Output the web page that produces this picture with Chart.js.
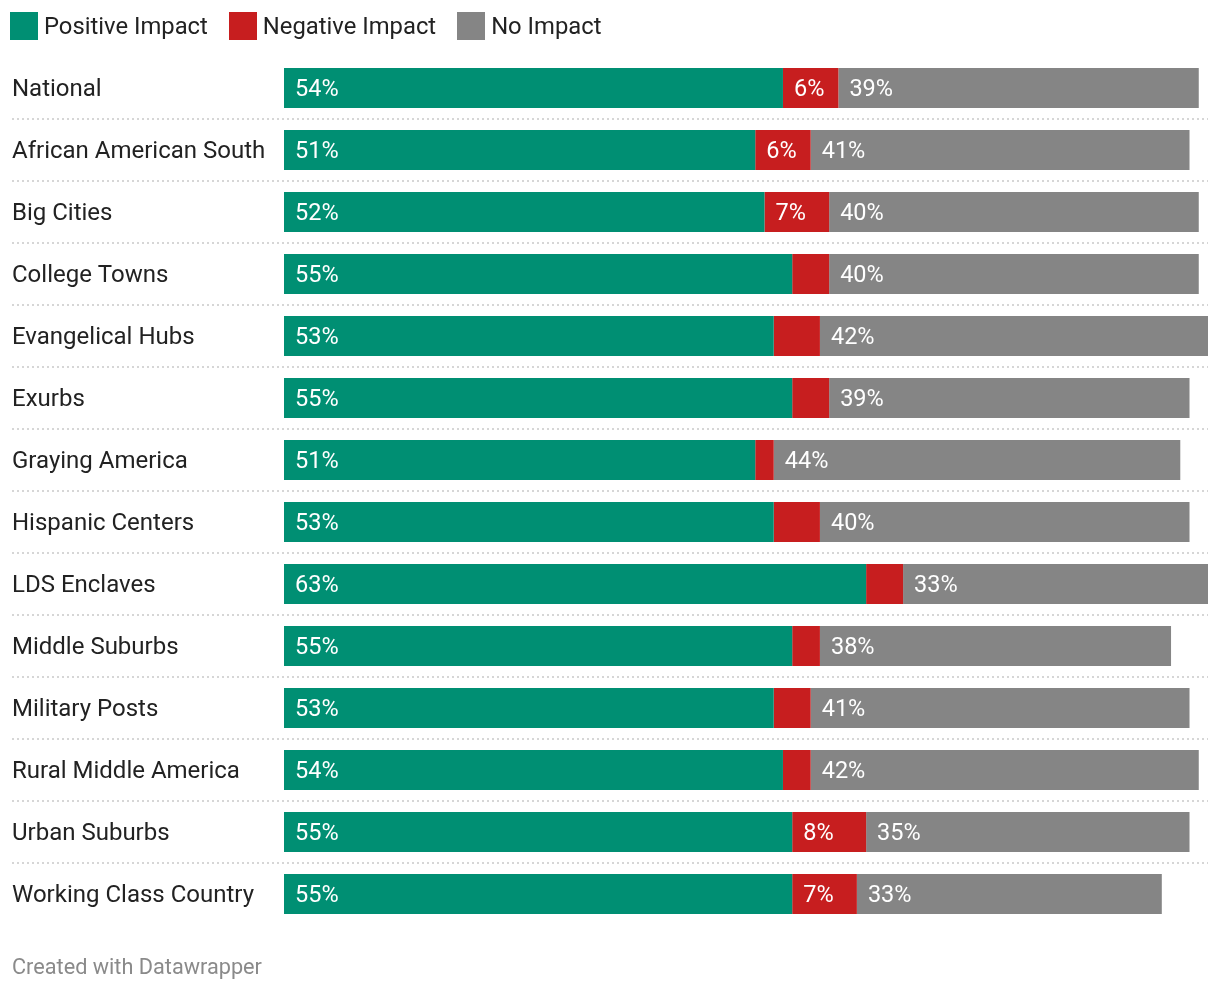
<!DOCTYPE html>
<html>
<head>
<meta charset="utf-8">
<script src="https://cdn.jsdelivr.net/npm/chart.js@4/dist/chart.umd.min.js"></script>
<style>
  html, body { margin: 0; padding: 0; background: #fff; }
  body { width: 1220px; height: 992px; position: relative; overflow: hidden; font-family: Roboto, "Noto Sans", sans-serif; }
  #legend { position: absolute; left: 10px; top: 12px; height: 28px; display: flex; align-items: center; font-size: 23.8px; color: #222; }
  .item { display: flex; align-items: center; margin-right: 21px; }
  .sw { width: 28px; height: 28px; margin-right: 6px; }
  #footer { position: absolute; left: 12px; top: 953px; font-size: 21.7px; line-height: 28px; color: #8a8a8a; }
  #wrap { position: absolute; left: 0; top: 0; width: 1220px; height: 992px; }
</style>
</head>
<body>
<div id="wrap"><canvas id="c" width="1220" height="992"></canvas></div>
<div id="legend"></div>
<div id="footer">Created with Datawrapper</div>
<script>
const categories = ["National","African American South","Big Cities","College Towns","Evangelical Hubs","Exurbs","Graying America","Hispanic Centers","LDS Enclaves","Middle Suburbs","Military Posts","Rural Middle America","Urban Suburbs","Working Class Country"];
const positive = [54,51,52,55,53,55,51,53,63,55,53,54,55,55];
const negative = [6,6,7,4,5,4,2,5,4,3,4,3,8,7];
const noImpact = [39,41,40,40,42,39,44,40,33,38,41,42,35,33];
const seriesNames = ["Positive Impact","Negative Impact","No Impact"];
const seriesColors = ["#008f73","#c71e1f","#858585"];
const labelMin = [0,6,0];

const legend = document.getElementById('legend');
seriesNames.forEach((n,i)=>{
  const it = document.createElement('div'); it.className='item';
  const sw = document.createElement('div'); sw.className='sw'; sw.style.background=seriesColors[i];
  const t = document.createElement('span'); t.textContent=n;
  it.appendChild(sw); it.appendChild(t); legend.appendChild(it);
});

const separators = {
  id:'separators',
  beforeDatasetsDraw(chart){
    const ctx = chart.ctx, y = chart.scales.y;
    ctx.save();
    ctx.strokeStyle = '#d6d6d6'; ctx.lineWidth = 2; ctx.setLineDash([2,3]);
    for (let i=0;i<categories.length-1;i++){
      const py = Math.round((y.getPixelForValue(i)+y.getPixelForValue(i+1))/2);
      ctx.beginPath(); ctx.moveTo(12,py); ctx.lineTo(1208,py); ctx.stroke();
    }
    ctx.restore();
  }
};
const valueLabels = {
  id:'valueLabels',
  afterDatasetsDraw(chart){
    const ctx = chart.ctx;
    ctx.save();
    ctx.font = '23.5px Roboto'; ctx.fillStyle = '#fff'; ctx.textAlign='left'; ctx.textBaseline='middle';
    chart.data.datasets.forEach((ds,di)=>{
      const meta = chart.getDatasetMeta(di);
      meta.data.forEach((el,i)=>{
        const v = ds.data[i];
        if (v < labelMin[di] || v <= 0) return;
        const left = Math.min(el.x, el.base);
        ctx.fillText(v+'%', left+11, el.y+2);
      });
    });
    ctx.restore();
  }
};

function draw(){
  new Chart(document.getElementById('c'), {
    type:'bar',
    data:{
      labels: categories,
      datasets: [positive,negative,noImpact].map((d,i)=>({
        label: seriesNames[i], data: d, backgroundColor: seriesColors[i],
        borderWidth:0, barPercentage: 40/62, categoryPercentage: 1
      }))
    },
    options:{
      indexAxis:'y', responsive:false, animation:false,
      layout:{ padding:{ left:12, right:12, top:57, bottom:67 } },
      plugins:{ legend:{display:false}, tooltip:{enabled:false} },
      scales:{
        x:{ stacked:true, min:0, max:100, display:false },
        y:{ stacked:true, grid:{display:false}, border:{display:false},
            ticks:{ crossAlign:'far', color:'#222', font:{family:'Roboto', size:24}, padding:0, labelOffset:2 },
            afterFit(s){ s.width = 272; } }
      }
    },
    plugins:[separators, valueLabels]
  });
}
if (document.fonts && document.fonts.load) {
  document.fonts.load('24px Roboto').then(draw, draw);
} else draw();
</script>
</body>
</html>
